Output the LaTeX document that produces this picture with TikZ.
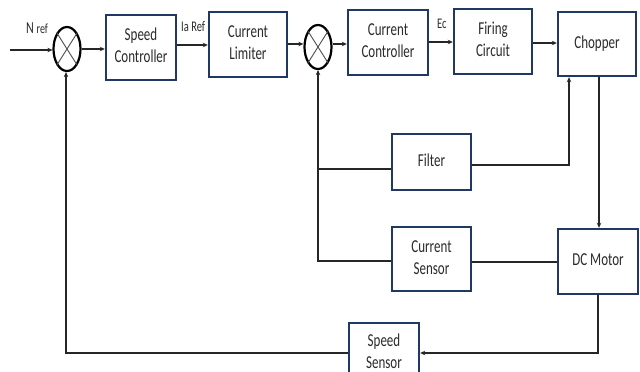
\documentclass[tikz,border=0pt]{standalone}
\usepackage{fontspec}
\setmainfont{Carlito}
\usepackage{graphicx}
\usetikzlibrary{shapes.geometric,arrows.meta}
\definecolor{boxnavy}{HTML}{203864}
\definecolor{txtgray}{HTML}{2B2B2B}
\newcommand{\bt}[1]{\scalebox{1}[1.4]{\begin{tabular}{@{}c@{}}#1\end{tabular}}}
\newcommand{\lt}[1]{\scalebox{1}[1.4]{#1}}
\begin{document}
\begin{tikzpicture}[x=1pt,y=-1pt,
  blk/.style={draw=boxnavy,line width=2.4pt,fill=white,inner sep=0pt,align=center,
    text=txtgray,font=\fontsize{13}{15.7}\selectfont},
  sumj/.style={ellipse,draw=black,line width=2.2pt,inner sep=0pt,minimum width=27pt,minimum height=44pt},
  conn/.style={draw=black!85,line width=1.1pt},
  arr/.style={conn,-{Stealth[length=5pt,width=4.5pt]}},
  lbl/.style={inner sep=0pt,anchor=base west,text=txtgray}]
\useasboundingbox (0,0) rectangle (640,372);
% summing junctions
\node[sumj] (s1) at (67,49) {};
\node[sumj] (s2) at (318,47) {};
\foreach \s in {s1,s2}{
  \draw[black!70,line width=0.9pt] (\s.north west) -- (\s.south east);
  \draw[black!70,line width=0.9pt] (\s.north east) -- (\s.south west);
}
% blocks
\node[blk,minimum width=70pt,minimum height=65pt] (sc) at (141,47.5) {\bt{Speed\\Controller}};
\node[blk,minimum width=78pt,minimum height=65pt] (cl) at (248,44.5) {\bt{Current\\Limiter}};
\node[blk,minimum width=80pt,minimum height=65pt] (cc) at (388,42.5) {\bt{Current\\Controller}};
\node[blk,minimum width=78pt,minimum height=65pt] (fc) at (493,41.5) {\bt{Firing\\Circuit}};
\node[blk,minimum width=78pt,minimum height=64pt] (ch) at (597,44) {\bt{Chopper}};
\node[blk,minimum width=79pt,minimum height=56pt] (fl) at (431.5,162) {\bt{Filter}};
\node[blk,minimum width=79pt,minimum height=64pt] (cs) at (431.5,259) {\bt{Current\\Sensor}};
\node[blk,minimum width=80pt,minimum height=65pt] (dc) at (598,261.5) {\bt{DC Motor}};
\node[blk,minimum width=70pt,minimum height=60pt] (ss) at (384,353) {\bt{Speed\\Sensor}};
% labels
\node[lbl] (lnref) at (26,33) {\lt{\fontsize{12}{14}\selectfont N \fontsize{10}{12}\selectfont ref}};
\node[lbl] (liaref) at (181,31) {\lt{\fontsize{10.5}{12}\selectfont Ia Ref}};
\node[lbl] (lec) at (437,28) {\lt{\fontsize{10.5}{12}\selectfont Ec}};
% forward path
\coordinate (in) at (10,50);
\draw[arr] (in) -- (in -| s1.west);
\draw[arr] (s1.east) -- (s1.east -| sc.west);
\draw[arr] (sc.east |- 0,45) -- (cl.west |- 0,45);
\draw[arr] (cl.east |- 0,44) -- (s2.west |- 0,44);
\draw[arr] (s2.east |- 0,44) -- (cc.west |- 0,44);
\draw[arr] (cc.east |- 0,42) -- (fc.west |- 0,42);
\draw[arr] (fc.east |- 0,43) -- (ch.west |- 0,43);
\coordinate (chd) at (599,76);
\draw[arr] (chd |- ch.south) -- (chd |- dc.north);
% filter loop
\coordinate (chu) at (569,76);
\draw[arr] (fl.east |- 0,165) -| (chu |- ch.south);
\coordinate (j2) at (318,261);
\draw[arr] (cs.west |- j2) -- (j2) -- (s2.south);
\draw[conn] (fl.west |- 0,169) -- (j2 |- 0,169);
% current sensor
\draw[conn] (dc.west |- 0,262) -- (cs.east |- 0,262);
% speed loop
\coordinate (dcd) at (598,353);
\draw[arr] (dcd |- dc.south) -- (dcd) -- (ss.east);
\coordinate (j1) at (66,353);
\draw[arr] (ss.west) -- (j1) -- (j1 |- s1.south);
\end{tikzpicture}
\end{document}
